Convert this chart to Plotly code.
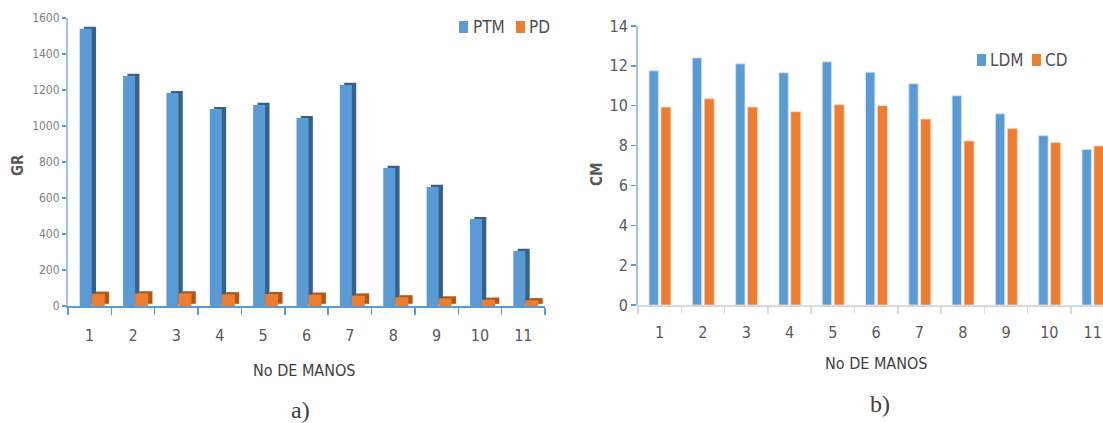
import plotly.graph_objects as go

W, H = 1103, 423

manos = list(range(1, 12))
tick_labels = [str(i) for i in manos]

# Chart a) values (GR)
ptm = [1540, 1278, 1183, 1094, 1117, 1044, 1228, 767, 661, 483, 306]
pd_vals = [68, 70, 70, 65, 66, 63, 58, 48, 42, 35, 32]

# Chart b) values (CM)
ldm = [11.75, 12.4, 12.1, 11.65, 12.2, 11.68, 11.1, 10.5, 9.6, 8.5, 7.8]
cd = [9.93, 10.35, 9.93, 9.7, 10.05, 10.0, 9.33, 8.23, 8.85, 8.15, 7.98]

series_a = ["PTM", "PD"]
series_b = ["LDM", "CD"]

BLUE = "#5b9bd5"
BLUE_DARK = "#37618a"
ORANGE = "#ed7d31"
ORANGE_DARK = "#b35717"
FONT = "Liberation Sans Narrow, DejaVu Sans Condensed, Arial Narrow, sans-serif"

def px_x(p):
    return p / W

def px_y(p):
    return 1 - p / H

fig = go.Figure()

# ---- chart a) pseudo-3D bars ----
depth_x = 0.1
depth_y = 12
fig.add_trace(go.Bar(x=manos, y=ptm, base=depth_y, offset=-0.23 + depth_x, width=0.277,
                     marker=dict(color=BLUE_DARK, line=dict(width=0)), showlegend=False,
                     xaxis="x", yaxis="y", hoverinfo="skip"))
fig.add_trace(go.Bar(x=manos, y=ptm, offset=-0.23, width=0.277, name=series_a[0],
                     marker=dict(color=BLUE, line=dict(width=0)), showlegend=False,
                     xaxis="x", yaxis="y"))
fig.add_trace(go.Bar(x=manos, y=pd_vals, base=depth_y, offset=0.047 + depth_x, width=0.3,
                     marker=dict(color=ORANGE_DARK, line=dict(width=0)), showlegend=False,
                     xaxis="x", yaxis="y", hoverinfo="skip"))
fig.add_trace(go.Bar(x=manos, y=pd_vals, offset=0.047, width=0.3, name=series_a[1],
                     marker=dict(color=ORANGE, line=dict(width=0)), showlegend=False,
                     xaxis="x", yaxis="y"))

# ---- chart b) flat bars ----
fig.add_trace(go.Bar(x=manos, y=ldm, offset=-0.245, width=0.215, name=series_b[0],
                     marker=dict(color=BLUE, line=dict(color="#cfe2f3", width=0.8)),
                     showlegend=False, xaxis="x2", yaxis="y2"))
fig.add_trace(go.Bar(x=manos, y=cd, offset=0.03, width=0.23, name=series_b[1],
                     marker=dict(color=ORANGE, line=dict(color="#fbd3b8", width=0.8)),
                     showlegend=False, xaxis="x2", yaxis="y2"))

bounds = [i + 0.5 for i in range(0, 12)]

fig.update_layout(
    width=W, height=H,
    margin=dict(l=0, r=0, t=0, b=0, autoexpand=False),
    paper_bgcolor="white", plot_bgcolor="white",
    barmode="overlay",
    showlegend=False,
    font=dict(family=FONT, color="#595959"),
    xaxis=dict(domain=[px_x(68), px_x(545)], range=[0.5, 11.5], automargin=False,
               tickvals=manos, ticktext=tick_labels, ticks="",
               tickfont=dict(size=16, color="#595959"), ticklabelstandoff=14,
               showline=True, linecolor=BLUE, linewidth=2, showgrid=False, zeroline=False,
               minor=dict(tickvals=bounds, ticks="outside", ticklen=7, tickcolor=BLUE, tickwidth=1.5),
               anchor="y"),
    yaxis=dict(domain=[px_y(306), px_y(18)], range=[0, 1600], dtick=200, automargin=False,
               tickfont=dict(size=12, color="#7f7f7f"), ticks="outside", ticklen=4,
               tickcolor=BLUE, tickwidth=1.5,
               showline=True, linecolor="#9dc3e6", linewidth=2, showgrid=False, zeroline=False,
               anchor="x"),
    xaxis2=dict(domain=[px_x(638), 1.0], range=[0.5, 0.5 + (1103 - 638) / 43.3], automargin=False,
                tickvals=manos, ticktext=tick_labels, ticks="",
                tickfont=dict(size=16, color="#595959"), ticklabelstandoff=12,
                showline=True, linecolor="#d9d9d9", linewidth=1.5, showgrid=False, zeroline=False,
                minor=dict(tickvals=bounds, ticks="outside", ticklen=7, tickcolor="#d9d9d9", tickwidth=1.5),
                anchor="y2"),
    yaxis2=dict(domain=[px_y(305), px_y(26)], range=[0, 14], dtick=2, automargin=False,
                tickfont=dict(size=16, color="#595959"), ticks="outside", ticklen=5,
                tickcolor=BLUE, tickwidth=1.5,
                showline=True, linecolor="#9dc3e6", linewidth=2, showgrid=False, zeroline=False,
                anchor="x2"),
)

# ---- legends (key squares + labels) ----
legend_items = [
    # (label, color, square left px, square top px, text left px)
    (series_a[0], BLUE, 459, 21, 473),
    (series_a[1], ORANGE, 516, 21, 529),
    (series_b[0], BLUE, 977, 54, 990),
    (series_b[1], ORANGE, 1032, 54, 1045),
]
for label, color, sx, sy, tx in legend_items:
    fig.add_shape(type="rect", xref="paper", yref="paper",
                  x0=px_x(sx), x1=px_x(sx + 9), y0=px_y(sy + 12), y1=px_y(sy),
                  fillcolor=color, line=dict(width=0))
    fig.add_annotation(text=label, xref="paper", yref="paper", x=px_x(tx - 2), y=px_y(sy + 6),
                       xanchor="left", yanchor="middle", showarrow=False,
                       font=dict(size=17, color="#505050"))

ann = [
    dict(text="<b>GR</b>", x=px_x(18), y=px_y(165), textangle=-90, font=dict(size=15, color="#595959")),
    dict(text="<b>CM</b>", x=px_x(597), y=px_y(175), textangle=-90, font=dict(size=15, color="#595959")),
    dict(text="No DE MANOS", x=px_x(304), y=px_y(370), font=dict(size=16, color="#404040")),
    dict(text="No DE MANOS", x=px_x(876), y=px_y(363), font=dict(size=16, color="#404040")),
    dict(text="a)", x=px_x(300), y=px_y(410), font=dict(size=24, color="#404040",
                                                         family="Liberation Serif, DejaVu Serif, serif")),
    dict(text="b)", x=px_x(880), y=px_y(404), font=dict(size=24, color="#404040",
                                                         family="Liberation Serif, DejaVu Serif, serif")),
]
for a in ann:
    fig.add_annotation(xref="paper", yref="paper", showarrow=False,
                       xanchor="center", yanchor="middle", **a)

fig.write_html("out.html", config={"displayModeBar": False, "staticPlot": True})

# remove the default page margin so the figure sits at the window's top-left corner
with open("out.html", "r", encoding="utf-8") as f:
    html = f.read()
html = html.replace("<head>", "<head><style>html,body{margin:0;padding:0;overflow:hidden;}</style>", 1)
with open("out.html", "w", encoding="utf-8") as f:
    f.write(html)
